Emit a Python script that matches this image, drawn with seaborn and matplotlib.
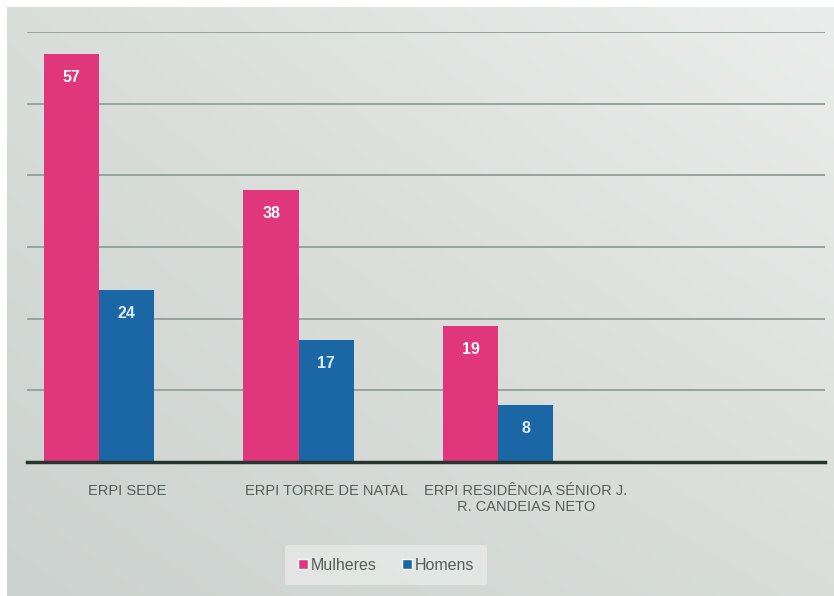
import numpy as np
import pandas as pd
import matplotlib.pyplot as plt
from matplotlib import font_manager as fm
from matplotlib.colors import LinearSegmentedColormap
from matplotlib.patches import Patch
import seaborn as sns

# dados
categorias = ["ERPI SEDE", "ERPI TORRE DE NATAL", "ERPI RESIDÊNCIA SÉNIOR J.\nR. CANDEIAS NETO"]
mulheres = [57, 38, 19]
homens = [24, 17, 8]
series = ["Mulheres", "Homens"]
cores = {"Mulheres": "#e0367c", "Homens": "#1b67a6", "vazio": "#ffffff"}

dados = pd.DataFrame({
    "local": categorias * 2,
    "serie": ["Mulheres"] * 3 + ["Homens"] * 3,
    "valor": mulheres + homens,
})

sns.set_theme(style="white")

# fonte estreita (parecida com Calibri digitalizada), se existir
familia = ["Liberation Sans", "DejaVu Sans"]
tam = 10.5
for f in fm.findSystemFonts():
    nome = f.lower()
    if "narrow" in nome and "liberation" in nome:
        fm.fontManager.addfont(f)
        familia = [fm.FontProperties(fname=f).get_name()] + familia
        tam = 12
        break
plt.rcParams["font.family"] = familia

fig = plt.figure(figsize=(8.34, 5.96), dpi=100)

# fundo com gradiente (digitalização)
bg = fig.add_axes([0, 0, 1, 1], zorder=-5)
xx, yy = np.meshgrid(np.linspace(0, 1, 200), np.linspace(0, 1, 200))
grad = np.clip(0.55 * xx + 0.45 * (1 - yy) - 0.1 * xx * yy, 0, 1)
cmap_bg = LinearSegmentedColormap.from_list("bg", ["#ccd2cf", "#dadfdc", "#ebeeec"])
bg.imshow(grad, cmap=cmap_bg, extent=[0, 1, 0, 1], aspect="auto", origin="upper")
bg.axhspan(0.988, 1.0, color="white", lw=0)
bg.axvspan(0.0, 0.008, color="white", lw=0)
bg.set_xlim(0, 1)
bg.set_ylim(0, 1)
bg.axis("off")

ax = fig.add_axes([0.0324, 0.2248, 0.9566, 0.7215])
ax.set_facecolor("none")

# terceira série vazia + quarta categoria vazia, como no original
sns.barplot(data=dados, x="local", y="valor", hue="serie",
            order=categorias + [""], hue_order=series + ["vazio"],
            palette=cores, width=0.83, gap=0, legend=False,
            saturation=1, linewidth=0, ax=ax)

ax.set_ylim(0, 60)
ax.set_yticks(range(0, 61, 10))
ax.set_yticklabels([])
ax.yaxis.grid(True, color="#97a39e", linewidth=1.4)
ax.set_axisbelow(True)
ax.tick_params(axis="both", length=0)
ax.tick_params(axis="x", pad=16, labelsize=tam, labelcolor="#535d59")
ax.set_xlabel("")
ax.set_ylabel("")
for s in ["left", "right", "top"]:
    ax.spines[s].set_visible(False)
ax.spines["bottom"].set_color("#26352f")
ax.spines["bottom"].set_linewidth(2.5)

# rótulos de valores dentro das barras
cor_txt = ["#ffffff", "#dcecf6"]
for cont, ct in zip(ax.containers[:2], cor_txt):
    for p in cont:
        h = p.get_height()
        if np.isnan(h):
            continue
        ax.annotate(f"{int(h)}", (p.get_x() + p.get_width() / 2, h),
                    xytext=(0, -17), textcoords="offset points",
                    ha="center", va="center", color=ct,
                    fontsize=11.5, fontweight="bold")

handles = [Patch(facecolor=cores[s], label=s) for s in series]
leg = fig.legend(handles=handles, loc="center", bbox_to_anchor=(0.463, 0.052),
                 ncol=2, frameon=True, fontsize=11.5, handlelength=0.6,
                 handleheight=0.6, handletextpad=0.2, columnspacing=1.6,
                 facecolor="#e7eae8", edgecolor="none", borderpad=0.8)
for t in leg.get_texts():
    t.set_color("#535d59")

fig.savefig("out.png", dpi=100)
